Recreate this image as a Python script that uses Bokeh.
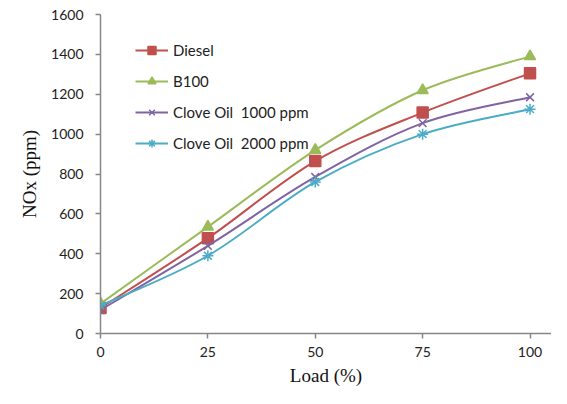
from bokeh.plotting import figure
from bokeh.models import Legend, LegendItem, FixedTicker, Range1d, Title
from bokeh.embed import file_html
from bokeh.resources import INLINE

load = [0, 25, 50, 75, 100]
diesel = [128, 478, 865, 1108, 1305]
b100 = [150, 535, 920, 1220, 1390]
clove1000 = [118, 440, 785, 1055, 1185]
clove2000 = [140, 390, 760, 1000, 1125]

names = ["Diesel", "B100", "Clove Oil  1000 ppm", "Clove Oil  2000 ppm"]
colors = ["#C0504D", "#9BBB59", "#8064A2", "#4BACC6"]
markers = ["square", "triangle", "x", "asterisk"]
sizes = [11, 11, 11, 11]
series = [diesel, b100, clove1000, clove2000]

x_ticks = [0, 25, 50, 75, 100]
y_ticks = [0, 200, 400, 600, 800, 1000, 1200, 1400, 1600]

p = figure(width=551, height=388, output_backend="svg", toolbar_location=None,
           x_range=Range1d(0, 105), y_range=Range1d(0, 1600),
           min_border_left=100, min_border_right=0, min_border_top=14, min_border_bottom=55)
p.outline_line_color = None
p.xgrid.visible = False
p.ygrid.visible = False


def smooth_controls(xs, ys):
    n = len(xs)
    px = [xs[0]] + list(xs) + [xs[-1]]
    py = [ys[0]] + list(ys) + [ys[-1]]
    out = dict(x0=[], y0=[], x1=[], y1=[], cx0=[], cy0=[], cx1=[], cy1=[])
    for i in range(n - 1):
        a, b, c, d = i, i + 1, i + 2, i + 3
        out["x0"].append(px[b]); out["y0"].append(py[b])
        out["x1"].append(px[c]); out["y1"].append(py[c])
        out["cx0"].append(px[b] + (px[c] - px[a]) / 6)
        out["cy0"].append(py[b] + (py[c] - py[a]) / 6)
        out["cx1"].append(px[c] - (px[d] - px[b]) / 6)
        out["cy1"].append(py[c] - (py[d] - py[b]) / 6)
    return out


items = []
for name, col, mk, sz, ys in zip(names, colors, markers, sizes, series):
    c = smooth_controls(load, ys)
    r1 = p.bezier(x0=c["x0"], y0=c["y0"], x1=c["x1"], y1=c["y1"],
                  cx0=c["cx0"], cy0=c["cy0"], cx1=c["cx1"], cy1=c["cy1"],
                  line_color=col, line_width=2)
    r2 = p.scatter(load, ys, marker=mk, size=sz, fill_color=col, line_color=col, line_width=1.5)
    items.append(LegendItem(label=name, renderers=[r1, r2]))

legend = Legend(items=items, location=(35, 180), border_line_color=None,
                background_fill_alpha=0, padding=0, spacing=11,
                glyph_width=33, glyph_height=20, label_height=20, label_standoff=5,
                label_text_font="Lato", label_text_font_size="15px", label_text_color="#222222")
p.add_layout(legend, "center")

for ax in (p.xaxis[0], p.yaxis[0]):
    ax.axis_line_color = "#868686"
    ax.axis_line_width = 1.5
    ax.major_tick_line_color = "#868686"
    ax.major_tick_line_width = 1.5
    ax.major_tick_out = 5
    ax.major_tick_in = 0
    ax.minor_tick_line_color = None
    ax.major_label_text_font = "Lato"
    ax.major_label_text_font_size = "14px"
    ax.major_label_text_color = "#222222"
    ax.axis_label_text_font = "Liberation Serif"
    ax.axis_label_text_font_style = "normal"
    ax.axis_label_text_color = "#111111"

p.xaxis.ticker = FixedTicker(ticks=x_ticks)
p.yaxis.ticker = FixedTicker(ticks=y_ticks)
p.xaxis.axis_label = "Load (%)"
p.xaxis.axis_label_text_font_size = "19px"
p.xaxis.major_label_standoff = 8
p.yaxis.major_label_standoff = 12
p.xaxis.axis_label_standoff = 5

ytitle = Title(text="NOx (ppm)", align="center", offset=19, standoff=18,
               text_font="Liberation Serif", text_font_size="19px",
               text_font_style="normal", text_color="#111111")
p.add_layout(ytitle, "left")

open("out.html", "w").write(file_html(p, INLINE))
